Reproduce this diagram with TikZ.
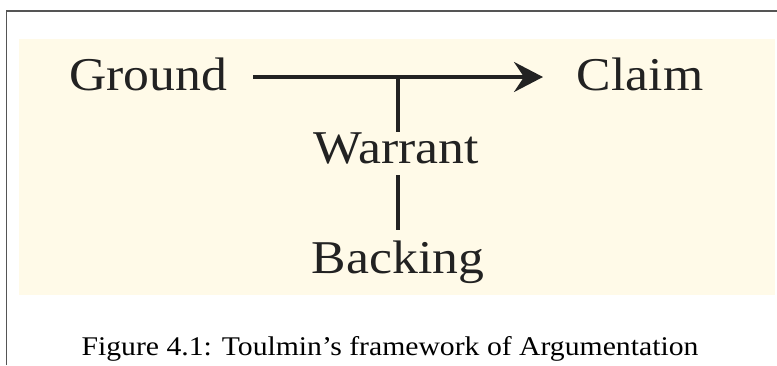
\documentclass[tikz,border=0pt]{standalone}
\usepackage{fontspec}
\setmainfont{Liberation Serif}
\usetikzlibrary{arrows.meta}
\definecolor{panel}{HTML}{FFFAE8}
\definecolor{ink}{HTML}{222222}
\definecolor{frame}{HTML}{555555}
\tikzset{
  label/.style={anchor=base, inner sep=0pt, text=ink, font=\fontsize{47}{50}\selectfont, xscale=1.1},
  link/.style={draw=ink, line width=3.4pt},
  caption/.style={anchor=base, inner sep=0pt, text=black, font=\fontsize{27}{30}\selectfont, xscale=1.1},
}
\begin{document}
\begin{tikzpicture}[x=1pt, y=-1pt]
  \useasboundingbox (0,0) rectangle (777,365);
  % page frame
  \draw[frame, line width=1.2pt] (6.5,365) -- (6.5,11) -- (777,11);
  % shaded panel
  \fill[panel] (19,39) rectangle (775,295);
  % labels
  \node[label] (ground)  at (148,90)  {Ground};
  \node[label] (claim)   at (640,90)  {Claim};
  \node[label] (warrant) at (396,163) {Warrant};
  \node[label] (backing) at (398,273) {Backing};
  % connector end points
  \coordinate (gout) at (253,77);
  \coordinate (cin)  at (543,77);
  \coordinate (tee)  at (398,77);
  \coordinate (wtop) at (398,132);
  \coordinate (wbot) at (398,175);
  \coordinate (btop) at (398,230);
  \draw[link, -{Stealth[length=29pt, width=30pt, inset=10pt]}] (gout) -- (cin);
  \draw[link] (tee) -- (wtop);
  \draw[link] (wbot) -- (btop);
  % caption
  \node[caption] (cap) at (390,355) {Figure 4.1: Toulmin’s framework of Argumentation};
\end{tikzpicture}
\end{document}
